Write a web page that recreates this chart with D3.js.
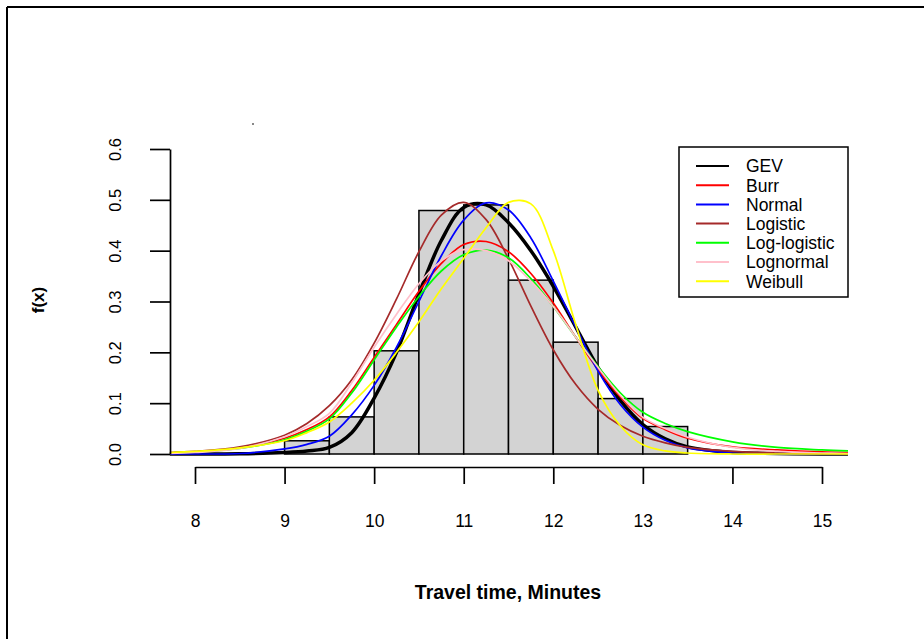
<!DOCTYPE html>
<html>
<head>
<meta charset="utf-8">
<script src="https://cdn.jsdelivr.net/npm/d3@7"></script>
<style>
  body { margin: 0; background: #fff; }
  svg { display: block; font-family: "Liberation Sans", Arial, sans-serif; }
</style>
</head>
<body>
<div id="chart"></div>
<script>

// histogram (density scale), bins of width 0.5
var binStarts = [9, 9.5, 10, 10.5, 11, 11.5, 12, 12.5, 13];
var binDensity = [0.026, 0.073, 0.203, 0.479, 0.49, 0.342, 0.22, 0.109, 0.054];

var xs = [7.72, 8, 8.5, 9, 9.25, 9.5, 9.75, 10, 10.25, 10.5, 10.75, 11, 11.25,
          11.5, 11.75, 12, 12.25, 12.5, 12.75, 13, 13.25, 13.5, 14, 14.5, 15, 15.29];

var gevY       = [0, 0, 0.0005, 0.003, 0.006, 0.013, 0.042, 0.11, 0.2, 0.315, 0.42, 0.485, 0.49,
                  0.455, 0.4, 0.33, 0.25, 0.17, 0.105, 0.058, 0.03, 0.014, 0.003, 0.001, 0, 0];
var burrY      = [0.002, 0.004, 0.012, 0.031, 0.048, 0.073, 0.125, 0.19, 0.255, 0.32, 0.375, 0.412, 0.418,
                  0.398, 0.355, 0.297, 0.23, 0.166, 0.112, 0.07, 0.048, 0.031, 0.014, 0.008, 0.004, 0.003];
var normalY    = [0, 0, 0.001, 0.01, 0.019, 0.035, 0.077, 0.135, 0.21, 0.3, 0.39, 0.46, 0.494,
                  0.48, 0.425, 0.34, 0.25, 0.163, 0.097, 0.053, 0.027, 0.012, 0.002, 0, 0, 0];
var logisticY  = [0.003, 0.005, 0.014, 0.037, 0.06, 0.095, 0.146, 0.218, 0.305, 0.398, 0.47, 0.495, 0.461,
                  0.384, 0.291, 0.205, 0.137, 0.088, 0.056, 0.035, 0.022, 0.013, 0.005, 0.002, 0.001, 0.0005];
var loglogY    = [0.002, 0.004, 0.011, 0.028, 0.045, 0.069, 0.12, 0.185, 0.25, 0.31, 0.36, 0.392, 0.401,
                  0.386, 0.345, 0.29, 0.23, 0.172, 0.12, 0.082, 0.06, 0.044, 0.024, 0.013, 0.008, 0.006];
var lognormalY = [0.001, 0.003, 0.011, 0.034, 0.054, 0.08, 0.14, 0.21, 0.275, 0.335, 0.38, 0.402, 0.4,
                  0.38, 0.34, 0.29, 0.23, 0.17, 0.115, 0.072, 0.05, 0.033, 0.013, 0.005, 0.002, 0.001];
var weibullY   = [0.003, 0.005, 0.012, 0.026, 0.042, 0.063, 0.1, 0.145, 0.2, 0.26, 0.325, 0.385, 0.445,
                  0.495, 0.492, 0.4, 0.255, 0.125, 0.055, 0.018, 0.006, 0.002, 0, 0, 0, 0];

var seriesNames = ["GEV", "Burr", "Normal", "Logistic", "Log-logistic", "Lognormal", "Weibull"];
var seriesColors = ["black", "red", "blue", "brown", "#00ff00", "pink", "yellow"];
var seriesValues = [gevY, burrY, normalY, logisticY, loglogY, lognormalY, weibullY];

var xTicks = [8, 9, 10, 11, 12, 13, 14, 15];
var yTicks = [0, 0.1, 0.2, 0.3, 0.4, 0.5, 0.6];

var width = 924, height = 639;

var svg = d3.select("#chart")
    .append("svg")
    .attr("width", width)
    .attr("height", height);

// frame (top and left edges visible)
svg.append("line").attr("x1", 7).attr("x2", width).attr("y1", 7).attr("y2", 7)
    .attr("stroke", "black").attr("stroke-width", 2);
svg.append("line").attr("x1", 7).attr("x2", 7).attr("y1", 7).attr("y2", height)
    .attr("stroke", "black").attr("stroke-width", 2);

// stray dot
svg.append("rect").attr("x", 252).attr("y", 123).attr("width", 2).attr("height", 2).attr("fill", "#888");

var x = d3.scaleLinear().domain([8, 15]).range([195, 822]);
var y = d3.scaleLinear().domain([0, 0.6]).range([454, 149]);

// histogram bars
svg.selectAll("rect.bar")
    .data(binStarts)
    .enter()
    .append("rect")
    .attr("class", "bar")
    .attr("x", function(d) { return x(d); })
    .attr("y", function(d, i) { return y(binDensity[i]); })
    .attr("width", function(d) { return x(d + 0.5) - x(d); })
    .attr("height", function(d, i) { return y(0) - y(binDensity[i]); })
    .attr("fill", "#d3d3d3")
    .attr("stroke", "black")
    .attr("stroke-width", 1.5);

// fitted curves
var line = d3.line()
    .x(function(d) { return x(d[0]); })
    .y(function(d) { return y(d[1]); })
    .curve(d3.curveCatmullRom.alpha(0.5));

seriesValues.forEach(function(vals, i) {
    svg.append("path")
        .datum(xs.map(function(v, j) { return [v, vals[j]]; }))
        .attr("d", line)
        .attr("fill", "none")
        .attr("stroke", seriesColors[i])
        .attr("stroke-width", i == 0 ? 3.5 : 1.7);
});

// axes
var yAxis = svg.append("g")
    .attr("transform", "translate(170,0)")
    .call(d3.axisLeft(y).tickValues(yTicks).tickSize(20).tickSizeOuter(0)
        .tickFormat(d3.format(".1f")));
yAxis.selectAll("text")
    .attr("x", null).attr("dy", null)
    .attr("transform", "translate(-49,0) rotate(-90)")
    .attr("text-anchor", "middle")
    .style("font-size", "16.5px")
    .attr("fill", "#000");

var xAxis = svg.append("g")
    .attr("transform", "translate(0,467)")
    .call(d3.axisBottom(x).tickValues(xTicks).tickSize(17).tickSizeOuter(0).tickPadding(31)
        .tickFormat(d3.format("d")));
xAxis.selectAll("text").style("font-size", "17.5px").attr("fill", "#000");

svg.selectAll(".domain, .tick line").attr("stroke", "black").attr("stroke-width", 1.7);
svg.selectAll(".tick text").style("font-family", "'Liberation Sans', Arial, sans-serif");

// axis titles
svg.append("text")
    .attr("x", 508).attr("y", 599)
    .attr("text-anchor", "middle")
    .style("font-size", "19.5px").style("font-weight", "bold")
    .text("Travel time, Minutes");

svg.append("text")
    .attr("transform", "translate(44,300) rotate(-90)")
    .attr("text-anchor", "middle")
    .style("font-size", "17px").style("font-weight", "bold")
    .text("f(x)");

// legend
var legend = svg.append("g");
legend.append("rect")
    .attr("x", 679).attr("y", 147).attr("width", 169).attr("height", 150)
    .attr("fill", "white").attr("stroke", "black").attr("stroke-width", 1.5);

seriesNames.forEach(function(name, i) {
    var ly = 166 + i * 19.2;
    legend.append("line")
        .attr("x1", 696).attr("x2", 729).attr("y1", ly).attr("y2", ly)
        .attr("stroke", seriesColors[i]).attr("stroke-width", 2);
    legend.append("text")
        .attr("x", 746).attr("y", ly).attr("dy", "0.36em")
        .style("font-size", "17.5px")
        .text(name);
});

</script>
</body>
</html>
